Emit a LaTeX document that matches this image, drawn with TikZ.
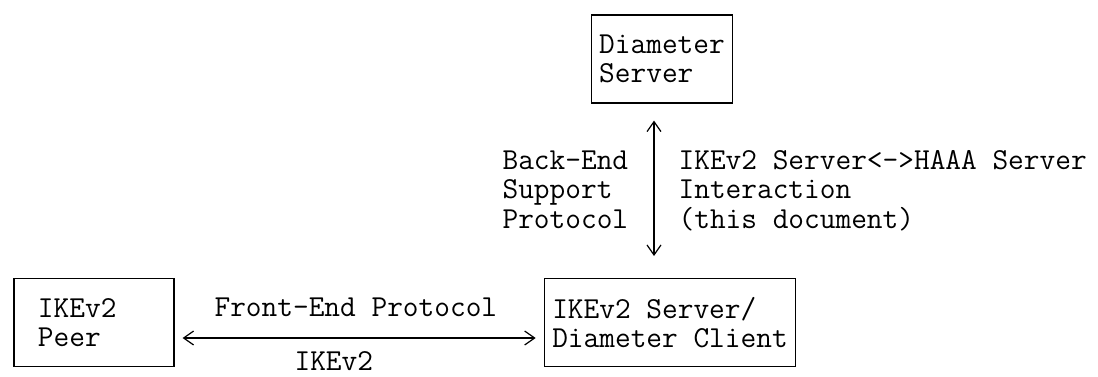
\documentclass[tikz,border=0pt]{standalone}
\usepackage{fontspec}
\usetikzlibrary{arrows.meta}
\newcommand{\mono}{\ttfamily\fontsize{15.24pt}{14.65pt}\selectfont}

\begin{document}
\begin{tikzpicture}[x=0.5pt, y=-0.5pt, line width=0.6pt, >={Straight Barb[length=5pt,width=7pt]},
  box/.style={draw, align=left, minimum height=44pt, inner ysep=0pt, inner xsep=4pt, font=\mono},
  lbl/.style={anchor=base west, inner sep=0pt, font=\mono}]
\useasboundingbox (0,0) rectangle (1098,376);

\node[box] (diam) at (662,59) {Diameter\\Server};
\node[box, text width=56pt, inner xsep=12pt] (peer) at (94,322.6) {IKEv2\\Peer};
\node[box] (srv) at (670,322.6) {IKEv2 Server/\\Diameter Client};

% back-end link
\coordinate (bx) at (654,0);
\draw[<->, shorten <=8.5pt, shorten >=11pt] (diam.south -| bx) -- (srv.north -| bx);
\foreach \t [count=\i from 5] in {Back-End,Support,Protocol}
  \node[lbl] (be\i) at (502,{23+29.3*\i}) {\t};
\foreach \t [count=\i from 5] in {IKEv2 Server<->HAAA Server,Interaction,(this document)}
  \node[lbl] (ia\i) at (678,{23+29.3*\i}) {\t};

% front-end link
\coordinate (fy) at (0,338);
\draw[<->, shorten <=4pt, shorten >=4pt] (peer.east |- fy) -- (srv.west |- fy);
\node[lbl] (fe) at (214,316) {Front-End Protocol};
\node[lbl] (ike) at (294,370) {IKEv2};

\end{tikzpicture}
\end{document}
